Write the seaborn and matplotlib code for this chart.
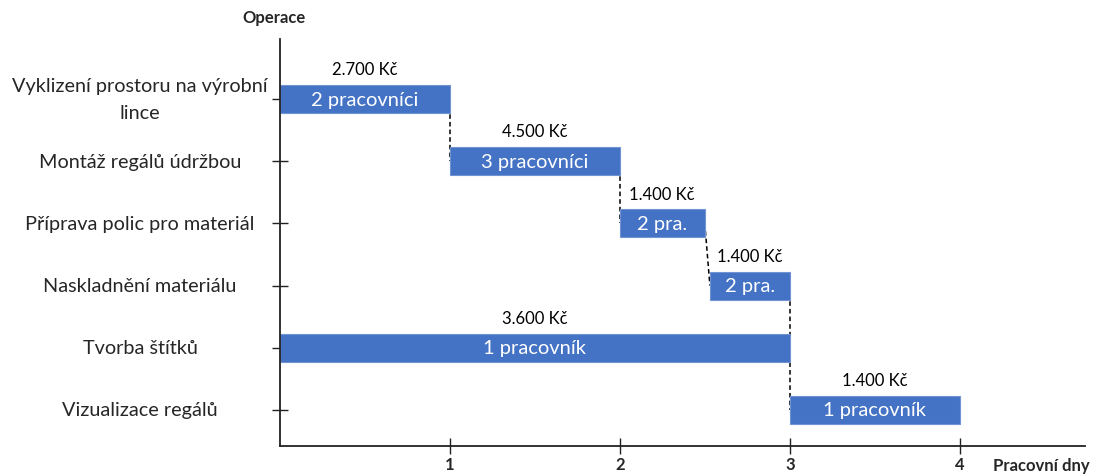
import matplotlib
matplotlib.use("Agg")
import matplotlib.pyplot as plt
import seaborn as sns

operations = ["Vyklizení prostoru na výrobní\nlince", "Montáž regálů údržbou",
              "Příprava polic pro materiál", "Naskladnění materiálu",
              "Tvorba štítků", "Vizualizace regálů"]
starts = [0, 1, 2, 2.53, 0, 3]
ends = [1, 2, 2.5, 3, 3, 4]
workers = ["2 pracovníci", "3 pracovníci", "2 pra.", "2 pra.", "1 pracovník", "1 pracovník"]
costs = ["2.700 Kč", "4.500 Kč", "1.400 Kč", "1.400 Kč", "3.600 Kč", "1.400 Kč"]
# which operation follows which (dashed connectors)
links = [(0, 1), (1, 2), (2, 3), (3, 5)]
day_ticks = [1, 2, 3, 4]

sns.set_theme(style="white")
plt.rcParams["font.family"] = ["Lato", "DejaVu Sans"]

fig = plt.figure(figsize=(11, 4.77), dpi=100)
ax = fig.add_axes([0.2545, 0.0629, 0.7315, 0.8532])

rows = list(range(len(operations)))
durations = [e - s for s, e in zip(starts, ends)]

# connectors behind bars
for a, b in links:
    ax.plot([ends[a], starts[b]], [a, b], color="black", lw=1.1, ls=(0, (3, 2)), zorder=1)

ax.barh(rows, durations, left=starts, height=0.45, color="#4472C4",
        edgecolor="#6F93D3", linewidth=0.8, zorder=2)

for r in rows:
    mid = (starts[r] + ends[r]) / 2
    ax.text(mid, r, workers[r], ha="center", va="center", color="white", fontsize=14.5, zorder=3)
    ax.text(mid, r - 0.48, costs[r], ha="center", va="center", color="black", fontsize=12, zorder=3)

ax.set_xlim(0, 4.735)
ax.set_ylim(5.58, -0.965)
ax.set_xticks(day_ticks)
ax.set_xticklabels([str(d) for d in day_ticks], fontweight="bold", fontsize=12)
ax.set_yticks(rows)
ax.set_yticklabels([])
for r, lab in enumerate(operations):
    ax.text(-0.174, r, lab, transform=ax.get_yaxis_transform(), ha="center", va="center",
            multialignment="center", fontsize=14.3, linespacing=1.65)

ax.tick_params(axis="both", which="major", bottom=True, left=True, direction="inout",
               length=11, width=1, color="#222222")
ax.tick_params(axis="x", pad=2)
for side in ["top", "right"]:
    ax.spines[side].set_visible(False)
for side in ["left", "bottom"]:
    ax.spines[side].set_color("#222222")
    ax.spines[side].set_linewidth(1.3)

fig.text(0.249, 0.962, "Operace", ha="center", va="center", fontweight="bold", fontsize=12)
fig.text(0.903, 0.023, "Pracovní dny", ha="left", va="center", fontweight="bold", fontsize=12)

fig.savefig("out.png", dpi=100)
